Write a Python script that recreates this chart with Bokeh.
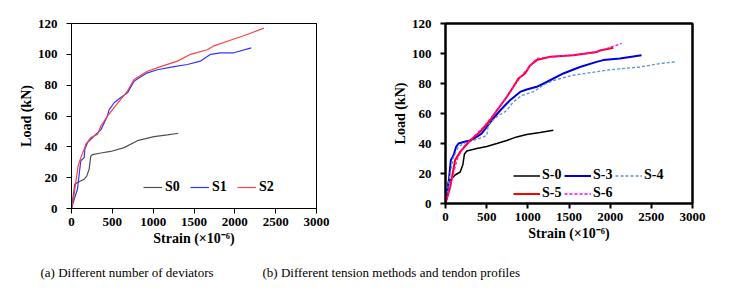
from bokeh.plotting import figure
from bokeh.layouts import row, column
from bokeh.models import Range1d, Legend, LegendItem, FixedTicker, LinearAxis
from bokeh.embed import file_html
from bokeh.resources import INLINE
from bokeh.core.properties import value

# ---------------- data (a) ----------------
s0_x = [0, 40, 80, 155, 187, 216, 236, 257, 360, 480, 644, 807, 1011, 1174, 1308]
s0_y = [0, 15.8, 17, 19, 21, 25.5, 34, 35, 36, 37, 39.5, 44, 46.6, 47.7, 48.8]

s1_x = [0, 33, 73, 100, 114, 155, 163, 196, 277, 359, 440, 460, 522, 603, 685, 766, 848, 929, 1052, 1256, 1418, 1581, 1704, 1826, 1989, 2201]
s1_y = [0, 6, 12.5, 25, 31, 33, 38.4, 42.7, 47, 51, 60, 64, 68.6, 72, 75, 82.6, 85.5, 88, 90, 92, 93.4, 95.6, 100, 101, 101, 104.2]

s2_x = [0, 24, 53, 81, 114, 155, 175, 236, 318, 359, 440, 522, 603, 685, 766, 929, 1092, 1296, 1459, 1663, 1745, 1907, 2152, 2356]
s2_y = [0, 6, 17, 27.6, 33, 38.4, 41.6, 46, 48, 53.5, 60, 65.4, 70.8, 76.2, 83.7, 89, 92, 95.6, 100, 103, 105.5, 108.5, 112.9, 117]

# ---------------- data (b) ----------------
b0_x = [0, 36, 77, 117, 178, 210, 230, 259, 380, 501, 623, 744, 865, 986, 1148, 1310]
b0_y = [0, 14.4, 16.7, 19, 21, 25.6, 33, 35, 36.7, 38, 40, 42, 44.4, 46, 47.3, 48.9]

b3_x = [0, 36, 65, 97, 129, 158, 218, 299, 380, 441, 501, 582, 663, 784, 906, 986, 1108, 1229, 1431, 1633, 1835, 1916, 2119, 2381]
b3_y = [0, 13, 29, 32, 37.8, 40, 41, 42, 44.4, 46.7, 51, 56.7, 62, 68.9, 74.4, 76, 77.8, 81, 86.7, 91, 94.4, 95.6, 96.7, 98.9]

b4_x = [0, 49, 97, 158, 218, 340, 461, 501, 522, 623, 744, 825, 926, 1067, 1189, 1310, 1552, 1957, 2361, 2604, 2786]
b4_y = [0, 17.8, 31, 37.8, 40, 42, 44.4, 45.5, 53, 57.8, 62, 67.8, 72, 74.4, 79, 82, 85.5, 88.9, 91, 93.3, 94.4]

b5_x = [0, 57, 117, 178, 299, 420, 542, 623, 744, 825, 885, 966, 1027, 1108, 1270, 1552, 1835, 1876, 2038]
b5_y = [0, 11, 29, 34.4, 42, 47.8, 55.5, 62, 71, 77.8, 83.3, 86.7, 92, 95.6, 97.8, 98.9, 101, 102, 103.8]

b6_x = [0, 77, 138, 218, 340, 461, 623, 825, 946, 1108, 1391, 1795, 1957, 2139]
b6_y = [0, 15.6, 29, 37.8, 44.4, 51, 62, 77.8, 86.7, 96.7, 98.2, 100.4, 103.3, 106.7]

x_ticks = [0, 500, 1000, 1500, 2000, 2500, 3000]
y_ticks = [0, 20, 40, 60, 80, 100, 120]

caption_a = "(a) Different number of deviators"
caption_b = "(b) Different tension methods and tendon profiles"

SERIF = "'Liberation Serif', 'Times New Roman', Times, serif"


def make_fig(fw, fh, bl, br, bt, bb, lw):
    p = figure(frame_width=fw, frame_height=fh, output_backend="svg", toolbar_location=None,
               x_range=Range1d(0, 3000), y_range=Range1d(0, 120),
               min_border_left=bl, min_border_right=br, min_border_top=bt, min_border_bottom=bb)
    p.background_fill_color = "white"
    p.border_fill_color = "white"
    p.outline_line_color = "black"
    p.outline_line_width = lw
    p.xgrid.visible = False
    p.ygrid.visible = False
    p.xaxis.ticker = FixedTicker(ticks=x_ticks)
    p.yaxis.ticker = FixedTicker(ticks=y_ticks)
    for ax in (p.xaxis[0], p.yaxis[0]):
        ax.axis_line_color = "black"
        ax.axis_line_width = lw
        ax.major_tick_line_color = "black"
        ax.major_tick_line_width = lw
        ax.major_tick_in = 0
        ax.major_tick_out = 5
        ax.minor_tick_line_color = None
        ax.major_label_text_font = SERIF
        ax.major_label_text_font_style = "bold"
        ax.major_label_text_font_size = "13px"
        ax.major_label_text_color = "black"
        ax.axis_label_text_font = SERIF
        ax.axis_label_text_font_style = "bold"
        ax.axis_label_text_font_size = "14px"
        ax.axis_label_text_color = "black"
    p.xaxis.axis_label = "Strain (×10⁻⁶)"
    p.yaxis.axis_label = "Load (kN)"
    p.xaxis.major_label_standoff = 4
    p.yaxis.major_label_standoff = 9
    p.xaxis.axis_label_standoff = 2
    p.yaxis.axis_label_standoff = 1
    # box border on top and right
    for loc in ("above", "right"):
        ax = LinearAxis(ticker=FixedTicker(ticks=[]), axis_line_color="black", axis_line_width=lw,
                        major_tick_line_color=None, minor_tick_line_color=None,
                        major_label_text_font_size="0px")
        p.add_layout(ax, loc)
    return p


# ---------- chart (a) ----------
pa = make_fig(245, 185, 71, 57, 21, 44, 1)
ra0 = pa.line(s0_x, s0_y, line_color="#505050", line_width=1.2)
ra1 = pa.line(s1_x, s1_y, line_color="#3333ff", line_width=1.2)
ra2 = pa.line(s2_x, s2_y, line_color="#ff4040", line_width=1.2)
leg_a = Legend(items=[LegendItem(label="S0", renderers=[ra0]),
                      LegendItem(label="S1", renderers=[ra1]),
                      LegendItem(label="S2", renderers=[ra2])],
               orientation="horizontal", location=(72, 13),
               glyph_width=19, glyph_height=14, label_height=14, label_standoff=3,
               spacing=5, padding=0, margin=0,
               border_line_color=None, background_fill_alpha=0,
               label_text_font=SERIF, label_text_font_style="bold",
               label_text_font_size="14px", label_text_color="black")
pa.add_layout(leg_a, "center")

# ---------- chart (b) ----------
pb = make_fig(247, 180, 72, 47, 23, 47, 2)
rb0 = pb.line(b0_x, b0_y, line_color="black", line_width=1.5)
rb3 = pb.line(b3_x, b3_y, line_color="#0000dd", line_width=2)
rb4 = pb.line(b4_x, b4_y, line_color="#5b8fd9", line_width=1.3, line_dash="3 2")
rb5 = pb.line(b5_x, b5_y, line_color="#ff0000", line_width=2)
rb6 = pb.line(b6_x, b6_y, line_color="#ff00ff", line_width=1.3, line_dash="3 2")
leg_b = Legend(items=[LegendItem(label="S-0", renderers=[rb0]),
                      LegendItem(label="S-3", renderers=[rb3]),
                      LegendItem(label="S-4", renderers=[rb4]),
                      LegendItem(label="S-5", renderers=[rb5]),
                      LegendItem(label="S-6", renderers=[rb6])],
               orientation="horizontal", ncols=3, location=(68, 2),
               glyph_width=27, glyph_height=13, label_height=13, label_standoff=2,
               spacing=2, padding=0, margin=0,
               border_line_color=None, background_fill_alpha=0,
               label_text_font=SERIF, label_text_font_style="bold",
               label_text_font_size="14px", label_text_color="black")
pb.add_layout(leg_b, "center")

# ---------- captions ----------
pc = figure(width=739, height=45, output_backend="svg", toolbar_location=None,
            x_range=Range1d(0, 739), y_range=Range1d(45, 0),
            min_border_left=0, min_border_right=0, min_border_top=0, min_border_bottom=0)
pc.axis.visible = False
pc.grid.visible = False
pc.outline_line_color = None
pc.border_fill_color = "white"
pc.text(x=[40, 262], y=[22, 22], text=[caption_a, caption_b],
        text_font=value(SERIF), text_font_size="13px", text_color="black",
        text_align="left", text_baseline="middle")

layout = column(row(pa, pb), pc)
open("out.html", "w").write(file_html(layout, INLINE))
